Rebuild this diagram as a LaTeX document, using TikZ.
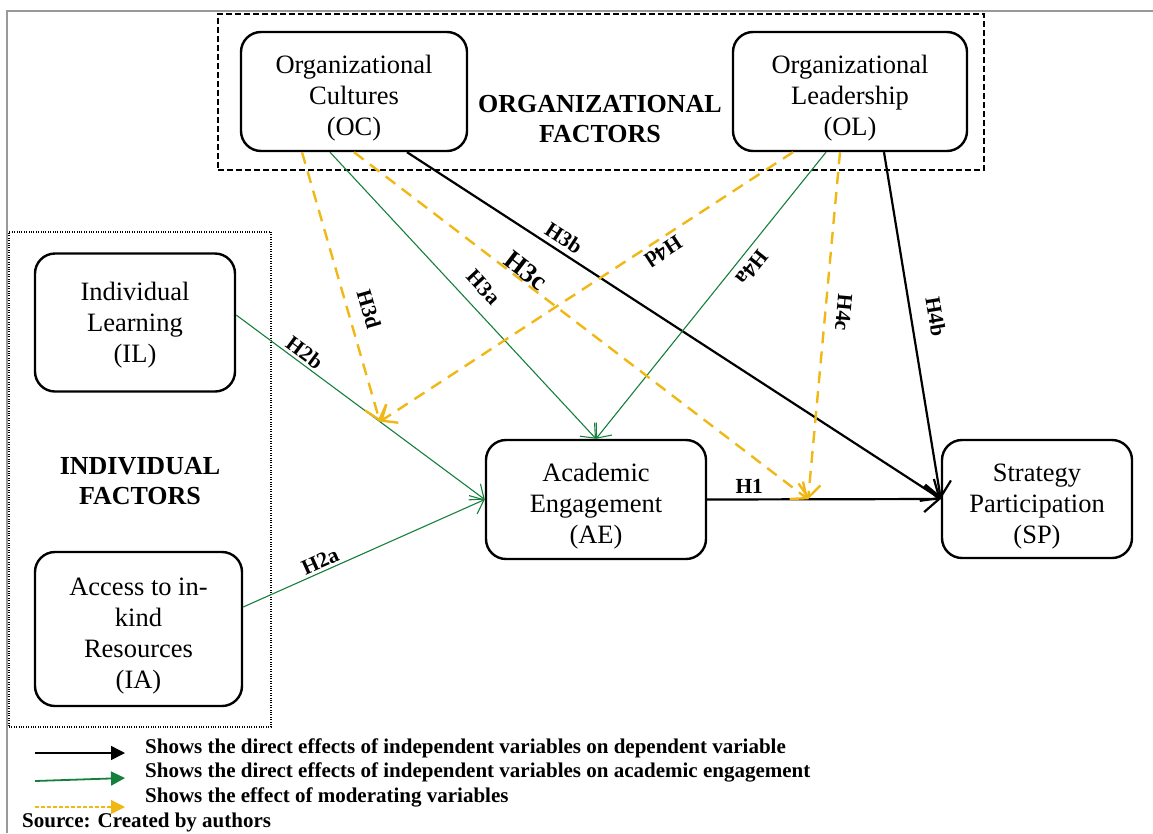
\documentclass[tikz,border=0pt]{standalone}
\usepackage{fontspec}
\setmainfont{Liberation Serif}
\usetikzlibrary{arrows.meta,calc}
\definecolor{grn}{RGB}{20,128,60}
\definecolor{ylw}{RGB}{240,184,20}
\definecolor{frm}{RGB}{153,153,153}
\newcommand{\dropline}{\rule{0pt}{32pt}}
\begin{document}
\begin{tikzpicture}[x=1pt,y=-1pt,
  box/.style={draw, line width=2.4pt, rounded corners=20pt, align=center,
    font=\fontsize{26.5}{31}\selectfont, inner sep=0pt},
  grouptitle/.style={align=center, font=\bfseries\fontsize{26}{31}\selectfont},
  blk/.style={line width=2.2pt, -{Straight Barb[length=15pt,width=26pt]}},
  grnarr/.style={grn, line width=1.1pt, -{Straight Barb[length=12pt,width=20pt]}},
  ylwarr/.style={ylw, line width=2.4pt, dash pattern=on 12pt off 8pt,
    -{Straight Barb[length=13pt,width=22pt]}},
  hlab/.style={font=\bfseries\fontsize{21.5}{24}\selectfont, text=black, sloped,
    allow upside down, inner sep=1pt},
  legtxt/.style={anchor=west, font=\bfseries\fontsize{21}{25}\selectfont, inner sep=0pt},
]
\useasboundingbox (0,0) rectangle (1153,833);
\draw[frm, line width=2pt] (7,833) -- (7,11) -- (1153,11);

% group frames
\node[draw, line width=2pt, dash pattern=on 6pt off 3pt, minimum width=766pt,
  minimum height=156pt, inner sep=0pt] (orgbox) at (601,92) {};
\node[draw, line width=1.2pt, dash pattern=on 1pt off 1.4pt, minimum width=262pt,
  minimum height=495pt, inner sep=0pt] (indbox) at (140,479.5) {};

% boxes
\node[box, minimum width=226pt, minimum height=119pt] (OC) at (354,91.5)
  {\dropline Organizational\\Cultures\\(OC)};
\node[box, minimum width=234pt, minimum height=119pt] (OL) at (850,91.5)
  {\dropline Organizational\\Leadership\\(OL)};
\node[box, minimum width=200pt, minimum height=138pt] (IL) at (135,322.5)
  {\rule{0pt}{24pt}Individual\\Learning\\(IL)};
\node[box, minimum width=207pt, minimum height=154pt] (IA) at (138.5,629)
  {\dropline Access to in-\\kind\\Resources\\(IA)};
\node[box, minimum width=220pt, minimum height=119pt] (AE) at (596,499.5)
  {\dropline Academic\\Engagement\\(AE)};
\node[box, minimum width=190pt, minimum height=118pt] (SP) at (1037,499)
  {\dropline Strategy\\Participation\\(SP)};

\node[grouptitle] (orgt) at (600,119) {ORGANIZATIONAL\\[-1pt]FACTORS};
\node[grouptitle] (indt) at (140,481) {INDIVIDUAL\\[-1pt]FACTORS};

% helper points
\coordinate (ils) at ([yshift=7.5pt]IL.east);
\coordinate (ias) at ([yshift=22pt]IA.east);
\coordinate (m1) at ($(AE.east)!0.432!(SP.west)$);
\coordinate (m2) at ($(ils)!0.578!(AE.west)$);

% black direct effects
\draw[blk] (AE.east) -- node[hlab,above=4pt,pos=0.18]{H1} (SP.west);
\draw[blk] ([xshift=53pt]OC.south) -- node[hlab,above=4pt,pos=0.28]{H3b} (SP.west);
\draw[blk] ([xshift=34pt]OL.south) -- node[hlab,above=15pt,pos=0.485]{H4b} (SP.west);

% green effects on AE
\draw[grnarr] (ils) -- node[hlab,above=1.5pt,pos=0.25]{H2b} (AE.west);
\draw[grnarr] (ias) -- node[hlab,above=1.5pt,pos=0.336]{H2a} (AE.west);
\draw[grnarr] ([xshift=-24pt]OC.south) -- node[hlab,above=12pt,pos=0.52]{H3a} (AE.north);
\draw[grnarr] ([xshift=-24pt]OL.south) -- node[hlab,above=6pt,pos=0.371]{H4a} (AE.north);

% moderating effects
\draw[ylwarr] ([xshift=-52pt]OC.south) -- node[hlab,above=11pt,pos=0.604]{H3d} (m2);
\draw[ylwarr] ([xshift=-57pt]OL.south) -- node[hlab,above=3pt,pos=0.33]{H4d} (m2);
\draw[ylwarr] (OC.south) -- node[hlab,above=-1pt,pos=0.365,
  font=\bfseries\fontsize{27}{30}\selectfont]{H3c} (m1);
\draw[ylwarr] ([xshift=-10pt]OL.south) -- node[hlab,above=9pt,pos=0.457]{H4c} (m1);

% legend
\coordinate (la1) at (35,753); \coordinate (lb1) at (125,753);
\coordinate (la2) at (35,781); \coordinate (lb2) at (125,778);
\coordinate (la3) at (35,807); \coordinate (lb3) at (125,807);
\draw[line width=1.5pt, -{Triangle[length=14pt,width=14pt]}] (la1) -- (lb1);
\draw[grn, line width=1.8pt, -{Triangle[length=14pt,width=14pt]}] (la2) -- (lb2);
\draw[ylw, line width=1.3pt, dash pattern=on 4pt off 2pt,
  -{Triangle[length=14pt,width=14pt]}] (la3) -- (lb3);
\node[legtxt] (lt1) at (145,748) {Shows the direct effects of independent variables on dependent variable};
\node[legtxt] (lt2) at (145,772) {Shows the direct effects of independent variables on academic engagement};
\node[legtxt] (lt3) at (145,797) {Shows the effect of moderating variables};
\node[legtxt] (src) at (22,822) {Source: Created by authors};
\end{tikzpicture}
\end{document}
